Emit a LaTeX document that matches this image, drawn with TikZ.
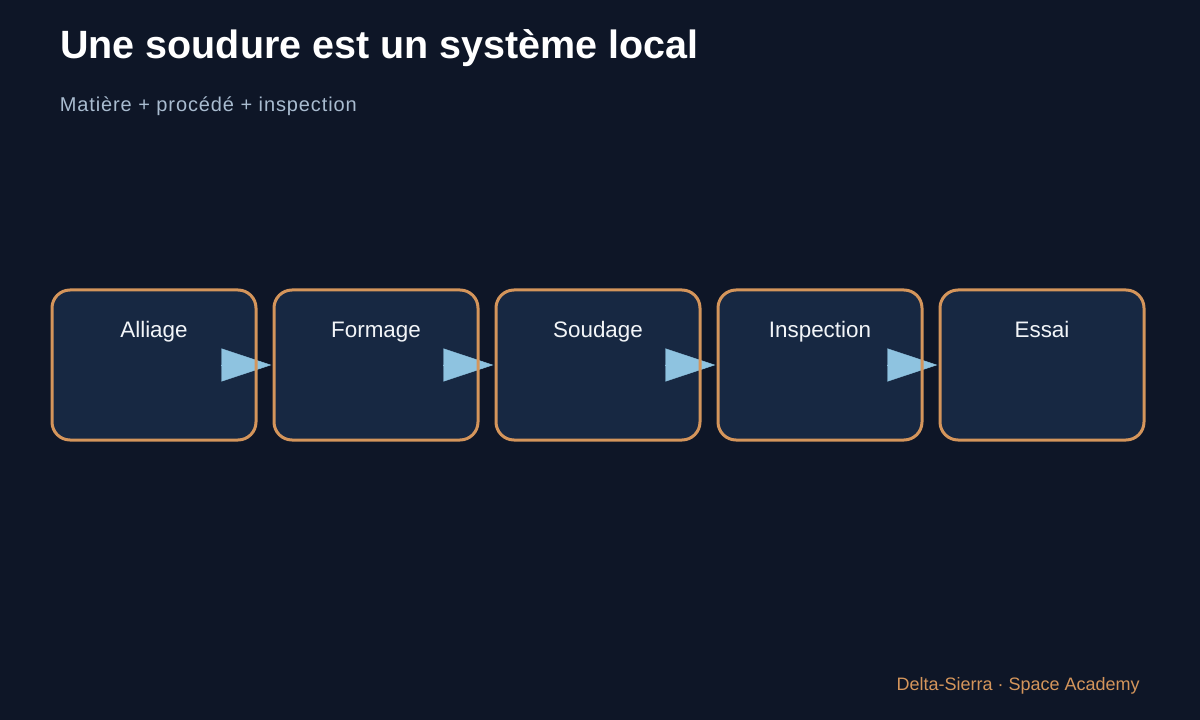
\documentclass[tikz,border=0pt]{standalone}
\usepackage{fontspec}
\setmainfont{Liberation Sans}
\newfontfamily\subfont[LetterSpace=4.5]{Liberation Sans}
\usepackage{tikz}
\usetikzlibrary{arrows.meta,positioning}
\usepackage{xcolor}
\definecolor{bgnavy}{HTML}{0E1627}
\definecolor{boxnavy}{HTML}{172842}
\definecolor{copper}{HTML}{D4955B}
\definecolor{skyblue}{HTML}{8EC3E0}
\definecolor{mist}{HTML}{A9BCD0}
\definecolor{paper}{HTML}{F2F5F8}

\begin{document}
\begin{tikzpicture}[x=0.75pt,y=-0.75pt]
    %styles
    \tikzstyle{stage}=[rectangle,rounded corners=13.5pt,fill=boxnavy,outer sep=0pt,
        minimum width=153pt,inner xsep=0pt,inner ysep=0pt,text height=36pt,text depth=76.5pt,
        text=paper,font=\fontsize{16.8}{20}\selectfont]
    \tikzstyle{frame}=[draw=copper,line width=2.25pt,rounded corners=13.5pt]
    \tikzstyle{flow}=[-{Triangle[length=37.5pt,width=24.75pt]},draw=skyblue,fill=skyblue,
        line width=0.3pt,shorten >=2pt]
    %background
    \fill[bgnavy] (0,0) rectangle (1200,720);
    \useasboundingbox (0,0) rectangle (1200,720);
    %texts
    \node[anchor=base west,inner sep=0pt,text=white,font=\fontsize{29.6}{36}\selectfont\bfseries] (title) at (60,59) {Une soudure est un système local};
    \node[anchor=base west,inner sep=0pt,text=mist,font=\fontsize{15}{18}\subfont] (subtitle) at (59.5,112) {Matière + procédé + inspection};
    \node[anchor=base east,inner sep=0pt,text=copper,font=\fontsize{13.5}{16}\selectfont] (footer) at (1140,690) {Delta-Sierra · Space Academy};
    %nodes
    \node[stage] (alliage) at (154,365) {Alliage};
    \node[stage] (formage) at (376,365) {Formage};
    \node[stage] (soudage) at (598,365) {Soudage};
    \node[stage] (inspection) at (820,365) {Inspection};
    \node[stage] (essai) at (1042,365) {Essai};
    %arrows
    \draw[flow] (alliage.east)--(formage.west);
    \draw[flow] (formage.east)--(soudage.west);
    \draw[flow] (soudage.east)--(inspection.west);
    \draw[flow] (inspection.east)--(essai.west);
    %frames
    \foreach \n in {alliage,formage,soudage,inspection,essai}
        \draw[frame] (\n.south west) rectangle (\n.north east);
\end{tikzpicture}
\end{document}
